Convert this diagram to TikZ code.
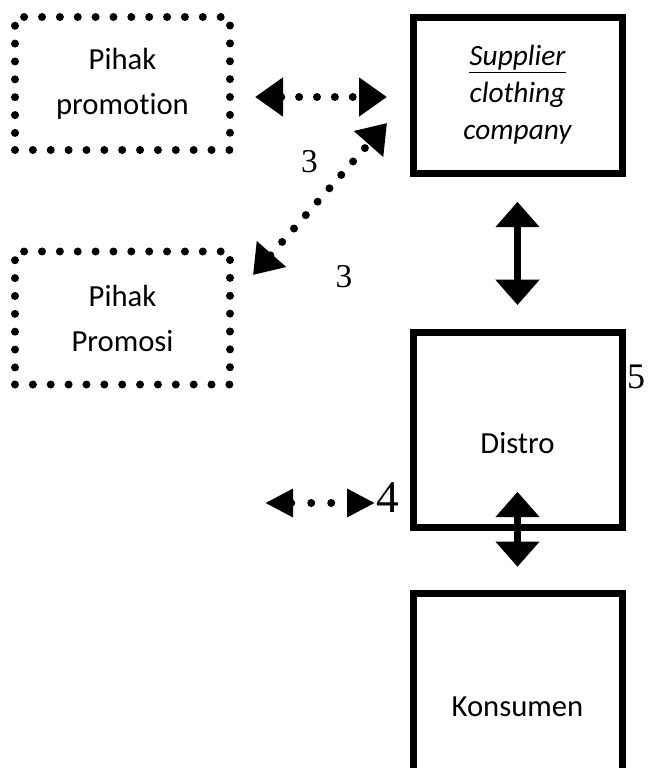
\documentclass[tikz,border=0pt]{standalone}
\usepackage{fontspec}
\setmainfont{Carlito}[Ligatures=NoCommon]
\newfontfamily\numfont{Liberation Serif}
\usetikzlibrary{arrows.meta}

\begin{document}
\begin{tikzpicture}[x=0.75pt, y=-0.75pt,
	every node/.style={font=\fontsize{23}{33.75}\selectfont, align=center},
	dotbox/.style={draw, line width=6pt, dash pattern=on 0pt off 13.4pt, line cap=round,
		minimum width=161.25pt, minimum height=99.75pt},
	solidbox/.style={draw, line width=5.25pt, minimum width=156.75pt},
	dotarrow/.style={line width=6pt, dash pattern=on 0pt off 13.4pt, line cap=round,
		>={Triangle[length=21pt, width=28pt]}, <->},
	thickarrow/.style={line width=5.25pt, >={Triangle[length=19pt, width=32pt]}, <->},
	num/.style={font=\numfont\fontsize{25}{28}\selectfont, inner sep=1pt}]
	\useasboundingbox (0,0) rectangle (647,768);
	% left side
	\node[dotbox] (promotion) at (122.5,83.5) {Pihak\\promotion};
	\node[dotbox] (promosi) at (122.5,318) {Pihak\\Promosi};
	% right column
	\node[solidbox, minimum height=117pt, font=\fontsize{22}{27.75}\selectfont\itshape] (supplier) at (517.5,95) {\underline{Supplier}\\clothing\\company};
	\node[solidbox, minimum height=146.25pt, label={[yshift=-10pt]center:Distro}] (distro) at (517.5,429.5) {};
	\node[solidbox, minimum height=171pt] (konsumen) at (517.5,707) {Konsumen};
	% numbers
	\node[num] (n3a) at (309.5,161.5) {3};
	\node[num] (n3b) at (344,276.5) {3};
	\node[num, font=\numfont\fontsize{34}{36}\selectfont] (n4) at (388,497.5) {4};
	\node[num, font=\numfont\fontsize{27}{30}\selectfont, inner sep=0.5pt, anchor=east] (n5) at (646,376.5) {5};
	% connectors
	\coordinate (pl) at (255,97);
	\coordinate (pr) at (387,97);
	\draw[dotarrow] (pl) -- (pr);
	\coordinate (dl) at (253,275);
	\coordinate (du) at (387,123);
	\draw[dotarrow] (dl) -- (du);
	\draw[thickarrow, shorten <=19pt, shorten >=17.6pt] (supplier.south) -- (distro.north);
	\draw[thickarrow] ([yshift=29pt]distro.south) -- ([yshift=17pt]konsumen.north);
	\coordinate (fl) at (265,503);
	\draw[dotarrow, dash pattern=on 0pt off 15pt, >={Triangle[length=21pt, width=20pt]}] (fl) -- (fl -| n4.west);
\end{tikzpicture}
\end{document}
